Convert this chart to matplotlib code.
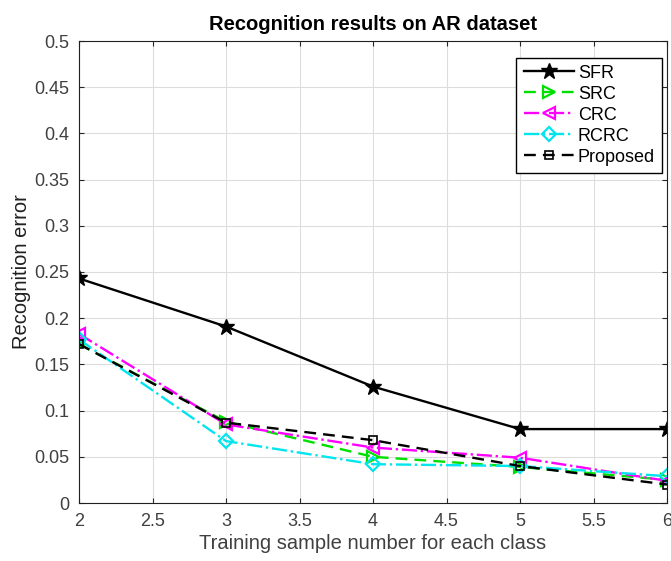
import matplotlib
matplotlib.use("Agg")
import matplotlib.pyplot as plt

plt.rcParams["font.family"] = ["Liberation Sans", "DejaVu Sans"]

x = [2, 3, 4, 5, 6]
sfr = [0.243, 0.191, 0.126, 0.080, 0.080]
src = [0.172, 0.088, 0.050, 0.039, 0.025]
crc = [0.183, 0.085, 0.060, 0.049, 0.024]
rcrc = [0.177, 0.067, 0.042, 0.040, 0.029]
proposed = [0.172, 0.087, 0.068, 0.040, 0.020]

fig = plt.figure(figsize=(6.71, 5.61), dpi=100)
ax = fig.add_axes([79 / 671, 58 / 561, 588 / 671, 462 / 561])

ax.plot(x, sfr, color='k', linestyle='-', linewidth=1.7, marker='*', markersize=12, label='SFR')
ax.plot(x, src, color='#00e000', linestyle='--', linewidth=1.7, marker='>', markersize=9,
        markerfacecolor='none', markeredgewidth=1.6, dashes=(5, 3), label='SRC')
ax.plot(x, crc, color='#ff00ff', linestyle='-.', linewidth=1.7, marker='<', markersize=9,
        markerfacecolor='none', markeredgewidth=1.6, label='CRC')
ax.plot(x, rcrc, color='#00e5ee', linestyle='-.', linewidth=1.7, marker='D', markersize=7,
        markerfacecolor='none', markeredgewidth=1.6, label='RCRC')
ax.plot(x, proposed, color='k', linestyle='--', linewidth=1.7, marker='s', markersize=6,
        markerfacecolor='none', markeredgewidth=1.2, dashes=(5, 3), label='Proposed')

ax.set_xlim(2, 6)
ax.set_ylim(0, 0.5)
ax.set_xticks([2, 2.5, 3, 3.5, 4, 4.5, 5, 5.5, 6])
ax.set_xticklabels(['2', '2.5', '3', '3.5', '4', '4.5', '5', '5.5', '6'])
ax.set_yticks([0, 0.05, 0.1, 0.15, 0.2, 0.25, 0.3, 0.35, 0.4, 0.45, 0.5])
ax.set_yticklabels(['0', '0.05', '0.1', '0.15', '0.2', '0.25', '0.3', '0.35', '0.4', '0.45', '0.5'])
ax.tick_params(direction='in', top=True, right=True, labelsize=13, labelcolor='#404040',
               color='#262626', pad=7)
ax.grid(True, color='#dddddd', linewidth=0.8)
for s in ax.spines.values():
    s.set_color('#202020')

ax.set_title('Recognition results on AR dataset', fontsize=14.5, fontweight='bold', pad=8)
ax.set_xlabel('Training sample number for each class', fontsize=14.5, color='#404040', labelpad=3)
ax.set_ylabel('Recognition error', fontsize=14.5, color='#202020', labelpad=2)

leg = ax.legend(loc='upper right', bbox_to_anchor=(0.998, 0.972), fontsize=13, fancybox=False,
                edgecolor='k', framealpha=1, handlelength=2.8, borderpad=0.4, labelspacing=0.22,
                handletextpad=0.2, borderaxespad=0.2)
leg.get_frame().set_linewidth(1)

fig.savefig('out.png', dpi=100)
